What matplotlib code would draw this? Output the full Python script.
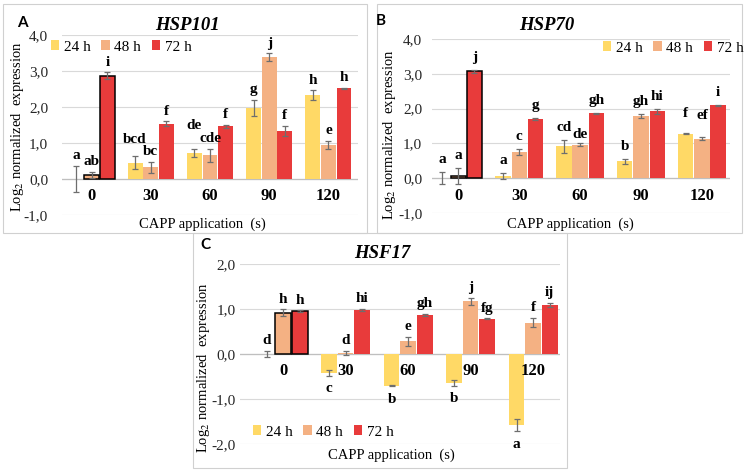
import matplotlib.pyplot as plt
from matplotlib.patches import Rectangle, Patch

plt.rcParams['font.family'] = ['Liberation Serif', 'DejaVu Serif']
plt.rcParams['mathtext.fontset'] = 'stix'

categories = ['0', '30', '60', '90', '120']
series = ['24 h', '48 h', '72 h']
colors = ['#FFD966', '#F4B183', '#E83B3B']

# HSP101
hsp101_24 = [0.00, 0.45, 0.72, 1.98, 2.33]
hsp101_48 = [0.11, 0.33, 0.66, 3.39, 0.95]
hsp101_72 = [2.87, 1.53, 1.46, 1.34, 2.52]
hsp101_err_24 = [0.37, 0.18, 0.12, 0.22, 0.13]
hsp101_err_48 = [0.09, 0.15, 0.18, 0.10, 0.11]
hsp101_err_72 = [0.10, 0.07, 0.04, 0.14, 0.02]
hsp101_let_24 = ['a', 'bcd', 'de', 'g', 'h']
hsp101_let_48 = ['ab', 'bc', 'cde', 'j', 'e']
hsp101_let_72 = ['i', 'f', 'f', 'f', 'h']

# HSP70
hsp70_24 = [0.00, 0.07, 0.92, 0.48, 1.28]
hsp70_48 = [0.06, 0.75, 0.96, 1.79, 1.14]
hsp70_72 = [3.07, 1.70, 1.86, 1.92, 2.09]
hsp70_err_24 = [0.18, 0.08, 0.19, 0.08, 0.02]
hsp70_err_48 = [0.22, 0.08, 0.04, 0.05, 0.03]
hsp70_err_72 = [0.04, 0.03, 0.02, 0.07, 0.01]
hsp70_let_24 = ['a', 'a', 'cd', 'b', 'f']
hsp70_let_48 = ['a', 'c', 'de', 'gh', 'ef']
hsp70_let_72 = ['j', 'g', 'gh', 'hi', 'i']

# HSF17
hsf17_24 = [0.00, -0.42, -0.70, -0.64, -1.58]
hsf17_48 = [0.92, 0.02, 0.28, 1.17, 0.70]
hsf17_72 = [0.95, 0.98, 0.87, 0.78, 1.09]
hsf17_err_24 = [0.07, 0.06, 0.02, 0.06, 0.13]
hsf17_err_48 = [0.07, 0.04, 0.10, 0.07, 0.11]
hsf17_err_72 = [0.02, 0.03, 0.03, 0.01, 0.05]
hsf17_let_24 = ['d', 'c', 'b', 'b', 'a']
hsf17_let_48 = ['h', 'd', 'e', 'j', 'f']
hsf17_let_72 = ['h', 'hi', 'gh', 'fg', 'ij']

W, H = 745, 470
fig = plt.figure(figsize=(W / 100, H / 100), dpi=100)


def fx(x):
    return x / W


def fy(y):
    return 1 - y / H


def make_axes(left, top, right, bottom):
    return fig.add_axes([fx(left), fy(bottom), fx(right) - fx(left), (bottom - top) / H])


def draw_panel(ax, vals, errs, lets, xlim, yticks, pad, pad_below, nudge, tickpad):
    width = 0.25
    step = 0.265
    for s in range(3):
        xs = [i + (s - 1) * step for i in range(len(categories))]
        edges = ['black' if (i == 0 and s > 0) else 'none' for i in range(len(categories))]
        ax.bar(xs, vals[s], width=width, color=colors[s], edgecolor=edges,
               linewidth=1.1, zorder=2)
        ax.errorbar(xs, vals[s], yerr=errs[s], fmt='none', ecolor='#6E6E6E',
                    elinewidth=0.9, capsize=2, capthick=0.9, zorder=3)
        for i, x in enumerate(xs):
            v, e = vals[s][i], errs[s][i]
            dy = nudge.get((i, s), 0)
            if v < 0:
                y = v - e - pad_below
            else:
                y = v + e + pad + dy
            ax.text(x, y, lets[s][i], ha='center', va='center', fontsize=11,
                    fontweight='bold', zorder=4)
    for i, c in enumerate(categories):
        ax.annotate(c, (i, 0), xytext=(0, -12.5), textcoords='offset points',
                    ha='center', va='center', fontsize=12, fontweight='bold')
    ax.set_xlim(*xlim)
    ax.set_ylim(yticks[0], yticks[-1])
    ax.set_yticks(yticks)
    ax.set_yticklabels([f'{t:.1f}'.replace('.', ',') for t in yticks])
    ax.tick_params(axis='y', length=0, pad=tickpad, labelsize=11, labelcolor='#262626')
    ax.set_xticks([])
    for sp in ax.spines.values():
        sp.set_visible(False)
    ax.grid(axis='y', color='#D9D9D9', linewidth=0.8, zorder=0)
    ax.axhline(0, color='#BFBFBF', linewidth=0.9, zorder=1)
    ax.set_axisbelow(True)
    ax.patch.set_alpha(0)


def frame(left, top, right, bottom):
    fig.patches.append(Rectangle((fx(left), fy(bottom)), fx(right) - fx(left), (bottom - top) / H,
                                 transform=fig.transFigure, fill=False,
                                 edgecolor='#D0D0D0', linewidth=0.8))


def legend(x, y):
    handles = [Patch(facecolor=colors[s], edgecolor='none', label=series[s]) for s in range(3)]
    fig.legend(handles=handles, loc='center left', bbox_to_anchor=(fx(x), fy(y)),
               ncol=3, frameon=False, fontsize=11, handlelength=0.55, handleheight=0.55,
               handletextpad=0.3, columnspacing=0.7, borderpad=0, borderaxespad=0)


def labels(letter, lx, ly, title, tx, ty, ylx, yly, xlx, xly):
    fig.text(fx(lx), fy(ly), letter, fontsize=11, fontweight='bold', family='Lato',
             ha='center', va='center')
    fig.text(fx(tx), fy(ty), title, fontsize=13.5, fontweight='bold', style='italic',
             ha='center', va='center')
    fig.text(fx(ylx), fy(yly), 'Log$_2$ normalized  expression', fontsize=10.5,
             rotation=90, ha='center', va='center')
    fig.text(fx(xlx), fy(xly), 'CAPP application  (s)', fontsize=10.5,
             ha='center', va='center')


# panel A
frame(3, 4, 367, 233)
axA = make_axes(62, 35, 358, 215)
draw_panel(axA, [hsp101_24, hsp101_48, hsp101_72],
           [hsp101_err_24, hsp101_err_48, hsp101_err_72],
           [hsp101_let_24, hsp101_let_48, hsp101_let_72],
           (-0.5, 4.5), [-1, 0, 1, 2, 3, 4], 0.28, 0.28,
           {(1, 0): 0.18, (2, 0): 0.37}, 10)
legend(51, 47)
labels('A', 22, 23, 'HSP101', 187, 25, 18, 127, 202, 224)

# panel B
frame(377, 4, 742, 233)
axB = make_axes(432, 39, 730, 213)
draw_panel(axB, [hsp70_24, hsp70_48, hsp70_72],
           [hsp70_err_24, hsp70_err_48, hsp70_err_72],
           [hsp70_let_24, hsp70_let_48, hsp70_let_72],
           (-0.43, 4.46), [-1, 0, 1, 2, 3, 4], 0.36, 0.36,
           {(4, 0): 0.2, (4, 1): 0.28, (2, 1): -0.1}, 7)
legend(603, 48)
labels('B', 381, 21, 'HSP70', 547, 26, 390, 135, 570, 224)

# panel C
frame(193, 233, 567, 468)
axC = make_axes(240, 264, 560, 444)
draw_panel(axC, [hsf17_24, hsf17_48, hsf17_72],
           [hsf17_err_24, hsf17_err_48, hsf17_err_72],
           [hsf17_let_24, hsf17_let_48, hsf17_let_72],
           (-0.69, 4.43), [-2, -1, 0, 1, 2], 0.23, 0.29, {}, 3)
legend(253, 432)
labels('C', 205, 245, 'HSF17', 382, 253, 203, 368, 391, 455)

fig.savefig('out.png', dpi=100)
